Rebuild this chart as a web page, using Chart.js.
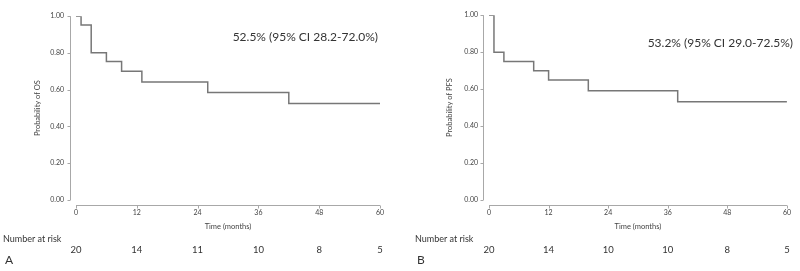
<!DOCTYPE html>
<html>
<head>
<meta charset="utf-8">
<script src="https://cdn.jsdelivr.net/npm/chart.js@4/dist/chart.umd.min.js"></script>
<style>
  html, body { margin: 0; padding: 0; background: #fff; }
  #wrap { position: relative; width: 800px; height: 271px; }
  .panel { position: absolute; top: 0; width: 400px; height: 271px; }
</style>
</head>
<body>
<div id="wrap">
  <div class="panel" style="left:0"><canvas id="chartA"></canvas></div>
  <div class="panel" style="left:400px"><canvas id="chartB"></canvas></div>
</div>
<script>
// KM step points: [month, survival]
const osTimes = [0, 1, 3, 6, 9, 13, 26, 42, 60];
const osProb  = [1.00, 0.952, 0.801, 0.753, 0.701, 0.642, 0.585, 0.525, 0.525];
const pfsTimes = [0, 1, 3, 9, 12, 20, 38, 60];
const pfsProb  = [1.00, 0.80, 0.75, 0.70, 0.649, 0.591, 0.532, 0.532];

const xTicks = [0, 12, 24, 36, 48, 60];
const yTicks = [0, 0.2, 0.4, 0.6, 0.8, 1.0];
const osAtRisk = [20, 14, 11, 10, 8, 5];
const pfsAtRisk = [20, 14, 10, 10, 8, 5];

const FONT = "Lato, 'Open Sans', sans-serif";
const axisColour = '#a8a8a8';
const lineColour = '#777777';
const textColour = '#333333';

// draws the offset axis lines, number at risk row, annotation and panel letter
const extrasPlugin = {
  id: 'extras',
  afterDraw(chart, args, opts) {
    const ctx = chart.ctx;
    const {x, y} = chart.scales;
    const area = chart.chartArea;
    ctx.save();
    ctx.strokeStyle = axisColour;
    ctx.lineWidth = 1;

    // y axis
    const ax = Math.round(area.left - 6) + 0.5;
    ctx.beginPath();
    ctx.moveTo(ax, y.getPixelForValue(1));
    ctx.lineTo(ax, y.getPixelForValue(0));
    yTicks.forEach(v => {
      const py = Math.round(y.getPixelForValue(v)) + 0.5;
      ctx.moveTo(ax, py);
      ctx.lineTo(ax - 3, py);
    });
    ctx.stroke();

    // x axis
    const ay = Math.round(area.bottom + 5) + 0.5;
    ctx.beginPath();
    ctx.moveTo(x.getPixelForValue(0), ay);
    ctx.lineTo(x.getPixelForValue(60), ay);
    xTicks.forEach(v => {
      const px = Math.round(x.getPixelForValue(v)) + 0.5;
      ctx.moveTo(px, ay);
      ctx.lineTo(px, ay + 3);
    });
    ctx.stroke();

    ctx.fillStyle = textColour;
    ctx.textBaseline = 'middle';

    // number at risk
    ctx.font = '9px ' + FONT;
    ctx.textAlign = 'left';
    ctx.fillText('Number at risk', opts.riskLabelX, 239);
    ctx.font = '9.5px ' + FONT;
    ctx.textAlign = 'center';
    xTicks.forEach((v, i) => {
      ctx.fillText(String(opts.atRisk[i]), x.getPixelForValue(v), 250);
    });

    // estimate annotation
    ctx.font = '12px ' + FONT;
    ctx.textAlign = 'right';
    ctx.fillText(opts.note, opts.noteX, opts.noteY);

    // panel letter
    ctx.font = '12px ' + FONT;
    ctx.textAlign = 'left';
    ctx.fillText(opts.letter, opts.riskLabelX + 2, 260);
    ctx.restore();
  }
};

function makeChart(id, times, probs, cfg) {
  const points = times.map((t, i) => ({x: t, y: probs[i]}));
  return new Chart(document.getElementById(id), {
    type: 'line',
    data: {
      datasets: [{
        data: points,
        stepped: true,
        borderColor: lineColour,
        borderWidth: 1.5,
        pointRadius: 0,
        fill: false
      }]
    },
    options: {
      responsive: true,
      maintainAspectRatio: false,
      animation: false,
      layout: {
        padding: {top: 7, right: cfg.padRight, bottom: 0, left: 0}
      },
      plugins: {
        legend: {display: false},
        tooltip: {enabled: false},
        extras: cfg.extras
      },
      scales: {
        x: {
          type: 'linear',
          min: 0,
          max: 60,
          afterFit: s => { s.height = 71; },
          afterBuildTicks: s => { s.ticks = xTicks.map(v => ({value: v})); },
          grid: {display: false, drawTicks: false},
          border: {display: false},
          ticks: {
            padding: 9,
            color: '#444',
            font: {family: FONT, size: 7},
            maxRotation: 0
          },
          title: {
            display: true,
            text: 'Time (months)',
            color: '#444',
            font: {family: FONT, size: 7.5},
            padding: {top: 0, bottom: 40}
          }
        },
        y: {
          min: 0,
          max: 1,
          afterFit: s => { s.width = cfg.yWidth; },
          afterBuildTicks: s => { s.ticks = yTicks.map(v => ({value: v})); },
          grid: {display: false, drawTicks: false},
          border: {display: false},
          ticks: {
            padding: cfg.yPad,
            color: '#444',
            font: {family: FONT, size: 7},
            callback: v => Number(v).toFixed(2)
          },
          title: {
            display: true,
            text: cfg.yTitle,
            color: '#444',
            font: {family: FONT, size: 7.5},
            padding: {top: cfg.yTitlePad, bottom: 0}
          }
        }
      }
    },
    plugins: [extrasPlugin]
  });
}

makeChart('chartA', osTimes, osProb, {
  padRight: 20, yWidth: 76, yPad: 12, yTitle: 'Probability of OS', yTitlePad: 33,
  extras: {atRisk: osAtRisk, riskLabelX: 3, note: '52.5% (95% CI 28.2-72.0%)',
           noteX: 378, noteY: 37.5, letter: 'A'}
});

makeChart('chartB', pfsTimes, pfsProb, {
  padRight: 7, yWidth: 89, yPad: 11, yTitle: 'Probability of PFS', yTitlePad: 45,
  extras: {atRisk: pfsAtRisk, riskLabelX: 15, note: '53.2% (95% CI 29.0-72.5%)',
           noteX: 393, noteY: 43, letter: 'B'}
});
</script>
</body>
</html>
